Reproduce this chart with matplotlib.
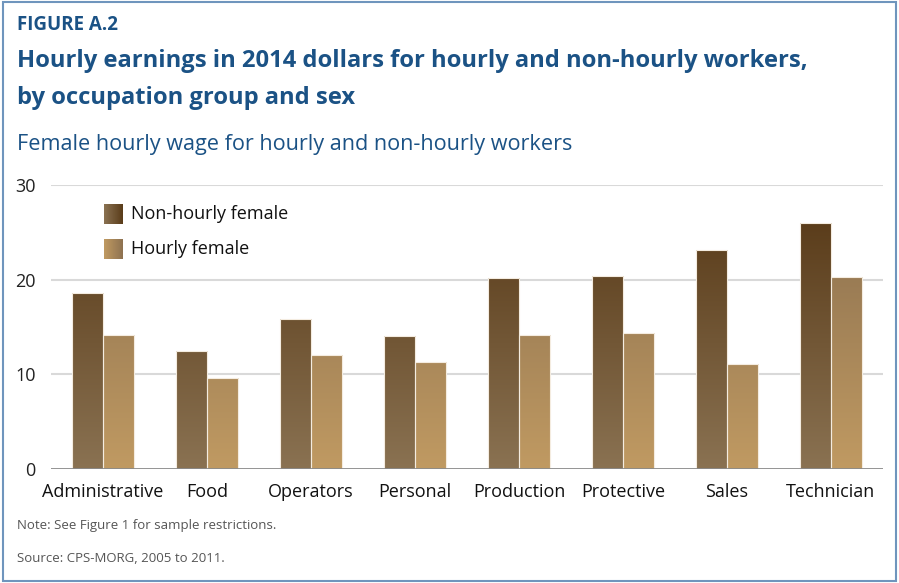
import numpy as np
import matplotlib.pyplot as plt
from matplotlib.colors import LinearSegmentedColormap
from matplotlib.patches import Rectangle

# --- Data ---
categories = ['Administrative', 'Food', 'Operators', 'Personal',
              'Production', 'Protective', 'Sales', 'Technician']
non_hourly = [18.6, 12.5, 15.8, 14.1, 20.2, 20.4, 23.1, 26.0]
hourly = [14.2, 9.6, 12.1, 11.3, 14.2, 14.4, 11.1, 20.3]
yticks = [0, 10, 20, 30]

BLUE = '#1b5285'
FONT = ['Open Sans', 'DejaVu Sans']

# gradients run with the y value (light at 0, dark at the top)
cmap_nh = LinearSegmentedColormap.from_list('nh', ['#8a7252', '#5a3c1a'])
cmap_h = LinearSegmentedColormap.from_list('h', ['#c09a62', '#8e7250'])
grad_top = 26.5

fig = plt.figure(figsize=(8.99, 5.83), dpi=100)
fig.patch.set_facecolor('white')

# frame around the figure
fig.add_artist(Rectangle((0.003, 0.004), 0.994, 0.993, transform=fig.transFigure,
                         fill=False, edgecolor='#6f95bd', linewidth=1.5))

ax = fig.add_axes([51 / 899, 1 - 469.3 / 583, (883 - 51) / 899, (469.3 - 184.7) / 583])

x = np.arange(len(categories)) + 0.5
w = 0.3
grad = np.linspace(0, 1, 256).reshape(-1, 1)


def gradient_bar(xc, h, cmap):
    im = ax.imshow(grad, cmap=cmap, aspect='auto', origin='lower',
                   extent=[xc - w / 2, xc + w / 2, 0, grad_top], zorder=2)
    rect = Rectangle((xc - w / 2, 0), w, h, facecolor='none',
                     edgecolor='#f4ece0', linewidth=0.8, zorder=3)
    ax.add_patch(rect)
    im.set_clip_path(rect)


for xi, nh, hh in zip(x, non_hourly, hourly):
    gradient_bar(xi - w / 2, nh, cmap_nh)
    gradient_bar(xi + w / 2, hh, cmap_h)

ax.set_xlim(0, len(categories))
ax.set_ylim(0, 30)

for t in yticks[1:]:
    ax.axhline(t, color='#d9d9d9', linewidth=1.5, zorder=1)
ax.axhline(0, color='#8a8a8a', linewidth=2, zorder=4)

for s in ax.spines.values():
    s.set_visible(False)
ax.set_yticks(yticks)
ax.set_yticklabels([str(t) for t in yticks], fontsize=13, family=FONT, color='#222222')
ax.set_xticks(x)
ax.set_xticklabels(categories, fontsize=13, family=FONT, color='#111111')
ax.tick_params(length=0)
ax.tick_params(axis='y', pad=11)
ax.tick_params(axis='x', pad=10)

# legend with horizontal gradient swatches
lg = np.linspace(0, 1, 64).reshape(1, -1)
for i, (cm, label) in enumerate([(cmap_nh, 'Non-hourly female'), (cmap_h, 'Hourly female')]):
    y0 = 1 - (223.7 + i * 35) / 583
    sax = fig.add_axes([104 / 899, y0, 19 / 899, 20 / 583])
    sax.imshow(lg, cmap=cm, aspect='auto')
    sax.axis('off')
    fig.text(131 / 899, y0 + 10 / 583, label, fontsize=13, family=FONT,
             color='#111111', va='center')

# titles
fig.text(17 / 899, 1 - 30 / 583, 'FIGURE A.2', fontsize=13.5, fontweight='bold',
         family=FONT, color=BLUE)
fig.text(17 / 899, 1 - 67 / 583,
         'Hourly earnings in 2014 dollars for hourly and non-hourly workers,',
         fontsize=17.1, fontweight='bold', family=FONT, color=BLUE)
fig.text(17 / 899, 1 - 104 / 583, 'by occupation group and sex',
         fontsize=17.1, fontweight='bold', family=FONT, color=BLUE)
fig.text(17 / 899, 1 - 150 / 583, 'Female hourly wage for hourly and non-hourly workers',
         fontsize=15.6, family=FONT, color=BLUE)

# notes
fig.text(17 / 899, 1 - 529 / 583, 'Note: See Figure 1 for sample restrictions.',
         fontsize=9.5, family=FONT, color='#555555')
fig.text(17 / 899, 1 - 562 / 583, 'Source: CPS-MORG, 2005 to 2011.',
         fontsize=9.5, family=FONT, color='#555555')

fig.savefig('out.png', dpi=100)
